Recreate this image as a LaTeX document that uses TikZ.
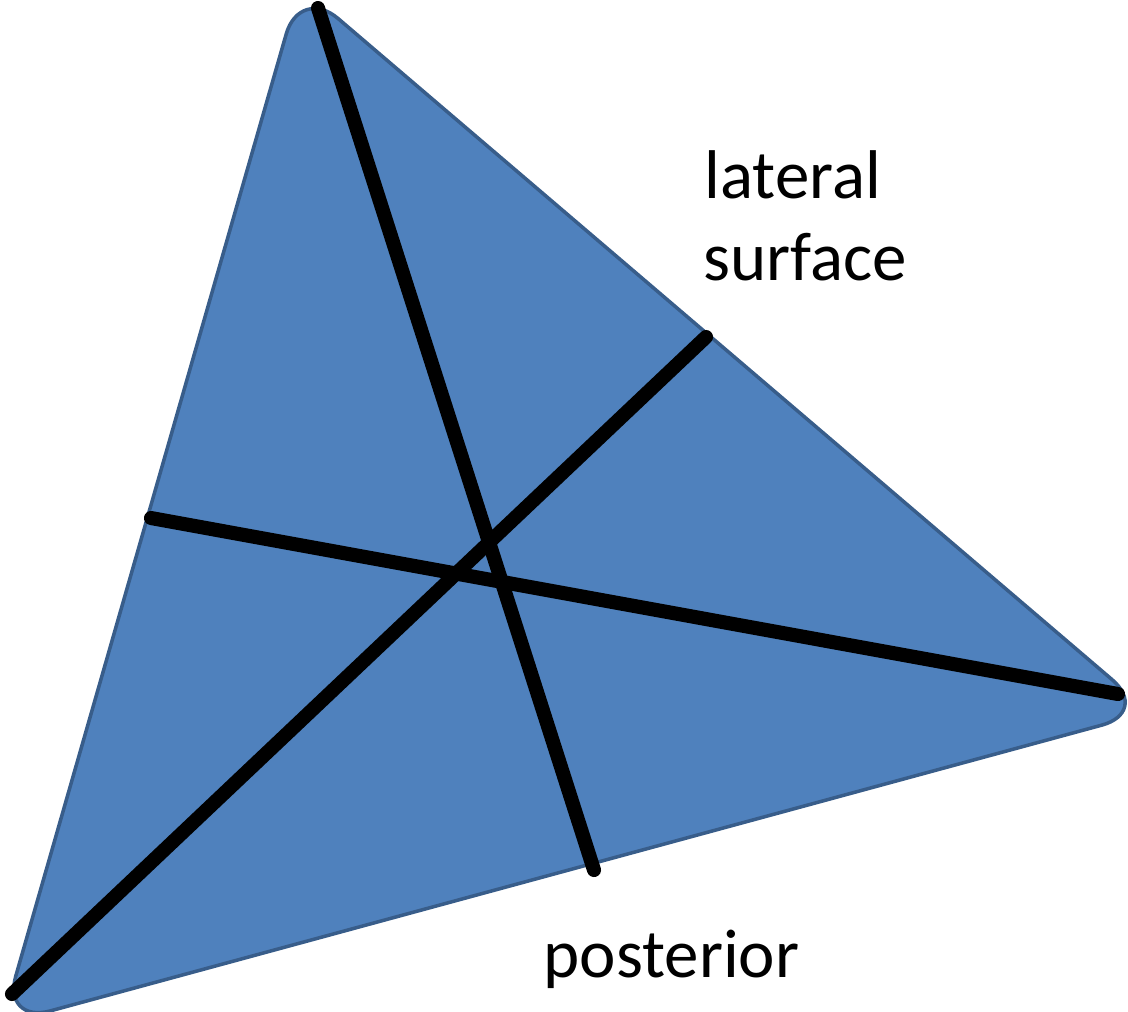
\documentclass[tikz,border=0pt]{standalone}
\usepackage{fontspec}
\setmainfont{Carlito}
\usetikzlibrary{positioning}
\definecolor{facefill}{RGB}{79,129,189}
\definecolor{faceedge}{RGB}{56,93,138}

\begin{document}
\begin{tikzpicture}[
    x=0.01cm, y=-0.01cm,
    face/.style={fill=facefill, draw=faceedge, line width=1pt, rounded corners=0.5cm},
    axisline/.style={draw=black, line width=4pt, line cap=round},
    textlabel/.style={font=\fontsize{19.6}{23.5}\selectfont, inner sep=0pt, anchor=base west}
]
    \useasboundingbox (0,0) rectangle (1128,1011);

    % corners of the face
    \coordinate (apex) at (300,-14);
    \coordinate (tipR) at (1150,712);
    \coordinate (tipL) at (2,1024);
    \draw[face] (apex) -- (tipR) -- (tipL) -- cycle;

    % the three lines across the face
    \coordinate (longTop) at (318,8);
    \coordinate (longEnd) at (594,870);
    \coordinate (crossL) at (151,518);
    \coordinate (crossR) at (1118,694);
    \coordinate (diagL) at (12,994);
    \coordinate (diagR) at (706,337);
    \draw[axisline] (longTop) -- (longEnd);
    \draw[axisline] (crossL) -- (crossR);
    \draw[axisline] (diagL) -- (diagR);

    \node[textlabel] (lat) at (704,198) {lateral};
    \node[textlabel] (surf) at (703,280) {surface};
    \node[textlabel] (post) at (543,977) {posterior};
\end{tikzpicture}
\end{document}
